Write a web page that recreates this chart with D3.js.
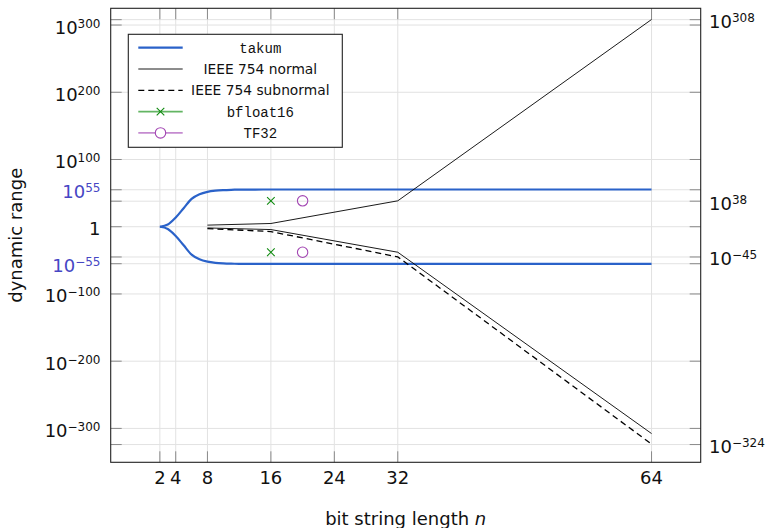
<!DOCTYPE html>
<html>
<head>
<meta charset="utf-8">
<script src="https://cdn.jsdelivr.net/npm/d3@7"></script>
<style>
  html, body { margin: 0; padding: 0; background: #fff; }
  svg { display: block; }
</style>
</head>
<body>
<svg id="chart" width="773" height="528"></svg>
<script>
// Dynamic range (log10 of largest / smallest positive value) against bit string length n.

// takum: largest positive value, exponent of ten; smallest is the mirror image
const takumN   = [2, 3, 4, 5, 6, 7, 8, 9, 10, 11, 12, 13, 14, 16, 20, 24, 32, 48, 64];
const takumMax = [0, 3.26, 13.68, 27.58, 41.48, 48.42, 51.90, 53.64, 54.50, 54.94, 55.16, 55.26, 55.32, 55.36, 55.37, 55.37, 55.37, 55.37, 55.37];
const takumMin = [0, -3.26, -13.68, -27.58, -41.48, -48.42, -51.90, -53.64, -54.50, -54.94, -55.16, -55.26, -55.32, -55.36, -55.37, -55.37, -55.37, -55.37, -55.37];

// IEEE 754 formats (8, 16, 32, 64 bits)
const ieeeN         = [8, 16, 32, 64];
const ieeeMax       = [2.38, 4.82, 38.53, 308.25];
const ieeeMinNormal = [-1.81, -4.21, -37.93, -307.65];
const ieeeMinSub    = [-2.71, -7.22, -44.85, -323.31];

// bfloat16 and TF32 points
const bfloatN = [16, 16];
const bfloatE = [38.53, -37.93];
const tf32N   = [20, 20];
const tf32E   = [38.53, -37.93];

// axis ticks
const xTicks      = [2, 4, 8, 16, 24, 32, 64];
const yTicksLeft  = [300, 200, 100, 55, 0, -55, -100, -200, -300];
const yTicksRight = [308, 38, -45, -324];
const highlightExp = [55, -55];

const legendLabels = ["takum", "IEEE 754 normal", "IEEE 754 subnormal", "bfloat16", "TF32"];

const SANS = "'DejaVu Sans', 'Liberation Sans', sans-serif";
const MONO = "'Liberation Mono', 'DejaVu Sans Mono', monospace";

const svg = d3.select("#chart").style("font-family", SANS);
const L = 110.7, R = 700.7, T = 8.3, B = 462.3;

const x = d3.scaleLinear().domain([-4.2, 70.2]).range([L, R]);
const y = d3.scaleLinear().domain([-350.4, 324.9]).range([B, T]);

const blue = "#2a62c9";
const labelBlue = "#4646c4";
const green = "#108a10";
const greenLine = "#63b563";
const purple = "#a347b3";
const purpleLine = "#c58bd0";

// grid
const grid = svg.append("g");
const allY = yTicksLeft.concat(yTicksRight);
grid.selectAll("line.h").data(allY).join("line")
  .attr("x1", L).attr("x2", R)
  .attr("y1", d => y(d)).attr("y2", d => y(d))
  .attr("stroke", "#e2e2e2").attr("stroke-width", 1);
grid.selectAll("line.v").data(xTicks).join("line")
  .attr("x1", d => x(d)).attr("x2", d => x(d))
  .attr("y1", T).attr("y2", B)
  .attr("stroke", "#e2e2e2").attr("stroke-width", 1);

// inward ticks on all four sides
const tickLen = 11;
const ticks = svg.append("g").attr("stroke", "#8a8a8a").attr("stroke-width", 1);
allY.forEach(d => {
  ticks.append("line").attr("x1", L).attr("x2", L + tickLen).attr("y1", y(d)).attr("y2", y(d));
  ticks.append("line").attr("x1", R).attr("x2", R - tickLen).attr("y1", y(d)).attr("y2", y(d));
});
xTicks.forEach(d => {
  ticks.append("line").attr("y1", B).attr("y2", B - tickLen).attr("x1", x(d)).attr("x2", x(d));
  ticks.append("line").attr("y1", T).attr("y2", T + tickLen).attr("x1", x(d)).attr("x2", x(d));
});

// data lines
const lineOf = (xs, ys, curve) => d3.line()
  .x((d, i) => x(xs[i])).y((d, i) => y(ys[i]))
  .curve(curve || d3.curveLinear)(xs);

svg.append("path").attr("d", lineOf(takumN, takumMax, d3.curveMonotoneX))
  .attr("fill", "none").attr("stroke", blue).attr("stroke-width", 2.2);
svg.append("path").attr("d", lineOf(takumN, takumMin, d3.curveMonotoneX))
  .attr("fill", "none").attr("stroke", blue).attr("stroke-width", 2.2);

svg.append("path").attr("d", lineOf(ieeeN, ieeeMax))
  .attr("fill", "none").attr("stroke", "#000").attr("stroke-width", 0.9);
svg.append("path").attr("d", lineOf(ieeeN, ieeeMinNormal))
  .attr("fill", "none").attr("stroke", "#000").attr("stroke-width", 0.9);
svg.append("path").attr("d", lineOf(ieeeN, ieeeMinSub))
  .attr("fill", "none").attr("stroke", "#000").attr("stroke-width", 1.3)
  .attr("stroke-dasharray", "6,4");

// markers
function cross(g, cx, cy, s, color) {
  g.append("path")
    .attr("d", `M${cx - s},${cy - s}L${cx + s},${cy + s}M${cx - s},${cy + s}L${cx + s},${cy - s}`)
    .attr("stroke", color).attr("stroke-width", 1.1).attr("fill", "none");
}
function ring(g, cx, cy, r, color) {
  g.append("circle").attr("cx", cx).attr("cy", cy).attr("r", r)
    .attr("stroke", color).attr("stroke-width", 1.1).attr("fill", "none");
}
const marks = svg.append("g");
bfloatN.forEach((n, i) => cross(marks, x(n), y(bfloatE[i]), 3.8, green));
tf32N.forEach((n, i) => ring(marks, x(n), y(tf32E[i]), 5.2, purple));

// frame
svg.append("rect").attr("x", L).attr("y", T).attr("width", R - L).attr("height", B - T)
  .attr("fill", "none").attr("stroke", "#222").attr("stroke-width", 1.1);

// tick labels
const fs = 18, sup = 12;
function powLabel(g, exp, xx, yy, anchor, color) {
  const t = g.append("text").attr("x", xx).attr("y", yy)
    .attr("text-anchor", anchor).attr("fill", color)
    .attr("font-size", fs);
  if (exp === 0) { t.text("1"); return; }
  t.append("tspan").text("10");
  t.append("tspan").attr("font-size", sup).attr("dy", -6)
    .text(exp < 0 ? "\u2212" + Math.abs(exp) : String(exp));
}
const labels = svg.append("g");
yTicksLeft.forEach(d => powLabel(labels, d, 100.5, y(d) + 8.5, "end",
  highlightExp.includes(d) ? labelBlue : "#111"));
yTicksRight.forEach(d => powLabel(labels, d, 709, y(d) + 8.5, "start", "#111"));

labels.selectAll("text.x").data(xTicks).join("text")
  .attr("x", d => x(d)).attr("y", B + 22)
  .attr("text-anchor", "middle").attr("font-size", fs).attr("fill", "#111")
  .text(d => d);

// axis titles
svg.append("text")
  .attr("transform", `translate(22,${(T + B) / 2}) rotate(-90)`)
  .attr("text-anchor", "middle").attr("font-size", fs).attr("fill", "#111")
  .text("dynamic range");
const xt = svg.append("text").attr("x", (L + R) / 2).attr("y", 524.5)
  .attr("text-anchor", "middle").attr("font-size", fs).attr("fill", "#111");
xt.append("tspan").text("bit string length ");
xt.append("tspan").attr("font-style", "italic").text("n");

// legend
const lg = svg.append("g");
lg.append("rect").attr("x", 128.3).attr("y", 34.3).attr("width", 214).attr("height", 113)
  .attr("fill", "#fff").attr("stroke", "#222").attr("stroke-width", 1.1);
const rowY = [47.7, 69, 90.3, 111.6, 132.9];
const sx1 = 138.3, sx2 = 182.7, sxm = (sx1 + sx2) / 2, tx = 260.3;
const seg = (i, color, w, dash) => lg.append("line")
  .attr("x1", sx1).attr("x2", sx2).attr("y1", rowY[i]).attr("y2", rowY[i])
  .attr("stroke", color).attr("stroke-width", w).attr("stroke-dasharray", dash || null);
seg(0, blue, 2.2);
seg(1, "#000", 0.9);
seg(2, "#000", 1.3, "6,4");
seg(3, greenLine, 1.6);
cross(lg, sxm, rowY[3], 3.8, green);
seg(4, purpleLine, 1.6);
lg.append("circle").attr("cx", sxm).attr("cy", rowY[4]).attr("r", 5.2)
  .attr("fill", "#fff").attr("stroke", purple).attr("stroke-width", 1.1);

const mono = [true, false, false, true, true];
legendLabels.forEach((t, i) => {
  lg.append("text").attr("x", tx).attr("y", rowY[i] + 5)
    .attr("text-anchor", "middle")
    .attr("font-size", mono[i] ? 14 : 13.8)
    .style("font-family", mono[i] ? MONO : SANS)
    .attr("fill", "#111")
    .text(t);
});
</script>
</body>
</html>
